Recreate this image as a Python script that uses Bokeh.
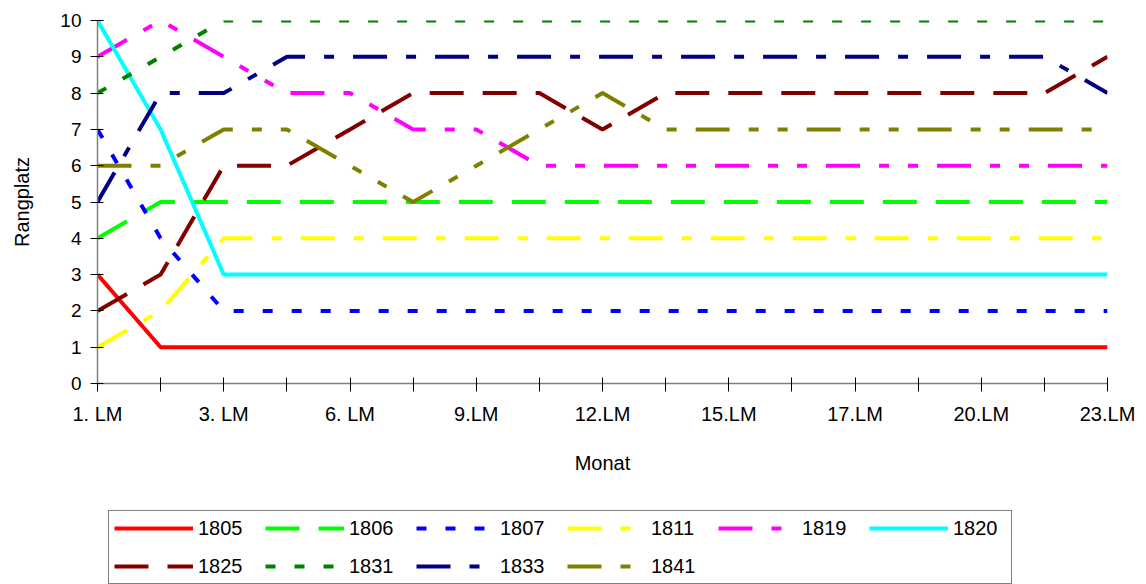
from bokeh.plotting import figure
from bokeh.layouts import column
from bokeh.models import FixedTicker, Legend, LegendItem, Range1d
from bokeh.embed import file_html
from bokeh.resources import INLINE

# ---- data ----
months = ["1. LM", "2. LM", "3. LM", "5. LM", "6. LM", "8. LM", "9.LM", "11.LM",
          "12.LM", "14.LM", "15.LM", "16.LM", "17.LM", "19.LM", "20.LM", "22.LM", "23.LM"]
years = ["1805", "1806", "1807", "1811", "1819", "1820", "1825", "1831", "1833", "1841"]

r1805 = [3, 1, 1, 1, 1, 1, 1, 1, 1, 1, 1, 1, 1, 1, 1, 1, 1]
r1806 = [4, 5, 5, 5, 5, 5, 5, 5, 5, 5, 5, 5, 5, 5, 5, 5, 5]
r1807 = [7, 4, 2, 2, 2, 2, 2, 2, 2, 2, 2, 2, 2, 2, 2, 2, 2]
r1811 = [1, 2, 4, 4, 4, 4, 4, 4, 4, 4, 4, 4, 4, 4, 4, 4, 4]
r1819 = [9, 10, 9, 8, 8, 7, 7, 6, 6, 6, 6, 6, 6, 6, 6, 6, 6]
r1820 = [10, 7, 3, 3, 3, 3, 3, 3, 3, 3, 3, 3, 3, 3, 3, 3, 3]
r1825 = [2, 3, 6, 6, 7, 8, 8, 8, 7, 8, 8, 8, 8, 8, 8, 8, 9]
r1831 = [8, 9, 10, 10, 10, 10, 10, 10, 10, 10, 10, 10, 10, 10, 10, 10, 10]
r1833 = [5, 8, 8, 9, 9, 9, 9, 9, 9, 9, 9, 9, 9, 9, 9, 9, 8]
r1841 = [6, 6, 7, 7, 6, 5, 6, 7, 8, 7, 7, 7, 7, 7, 7, 7, 7]
series = [r1805, r1806, r1807, r1811, r1819, r1820, r1825, r1831, r1833, r1841]

# ---- styles ----
colors = ["#FF0000", "#00FF00", "#0000FF", "#FFFF00", "#FF00FF", "#00FFFF",
          "#800000", "#008000", "#000080", "#808000"]
dashes = ["solid", "34 19", "10 19", "34 19 10 19", "34 19 10 19 10 19", "solid",
          "34 19", "10 19", "34 19 10 19", "34 19 10 19 10 19"]

FONT = "Liberation Sans"
x = list(range(len(months)))

# ---- main chart ----
p = figure(width=1140, height=510, output_backend="svg", toolbar_location=None,
           x_range=Range1d(0, len(months) - 1), y_range=Range1d(0, 10),
           min_border_left=97, min_border_right=33, min_border_top=20,
           min_border_bottom=127)
p.background_fill_color = "white"
p.border_fill_color = "white"
p.outline_line_color = None
p.grid.visible = False

for vals, c, d in zip(series, colors, dashes):
    p.line(x, vals, line_color=c, line_width=4, line_dash=d)

p.xaxis.ticker = FixedTicker(ticks=x)
p.xaxis.major_label_overrides = {i: (m if i % 2 == 0 else "") for i, m in enumerate(months)}
p.yaxis.ticker = FixedTicker(ticks=list(range(11)))
for ax in (p.xaxis, p.yaxis):
    ax.axis_line_color = "#808080"
    ax.axis_line_width = 1.5
    ax.major_tick_line_color = "#000000"
    ax.major_tick_line_width = 1
    ax.minor_tick_line_color = None
    ax.major_label_text_font = FONT
    ax.major_label_text_font_size = "20px"
    ax.major_label_text_color = "#000000"
    ax.axis_label_text_font = FONT
    ax.axis_label_text_font_size = "20px"
    ax.axis_label_text_font_style = "normal"
    ax.axis_label_text_color = "#000000"

p.xaxis.axis_label = "Monat"
p.xaxis.major_tick_out = 8
p.xaxis.major_tick_in = 6
p.xaxis.major_label_standoff = 11
p.xaxis.axis_label_standoff = 24

p.yaxis.axis_label = "Rangplatz"
p.yaxis.major_label_text_font_size = "19px"
p.yaxis.major_tick_out = 7
p.yaxis.major_tick_in = 6
p.yaxis.major_label_standoff = 9
p.yaxis.axis_label_standoff = 24

# ---- legend panel (same series, drawn outside its view so only the legend shows) ----
lg = figure(width=1140, height=74, output_backend="svg", toolbar_location=None,
            x_range=Range1d(-10, -9), y_range=Range1d(0, 10),
            min_border=0)
lg.outline_line_color = None
lg.grid.visible = False
lg.axis.visible = False
lg.background_fill_color = "white"
lg.border_fill_color = "white"

legend_renderers = []
for vals, c, d in zip(series, colors, dashes):
    legend_renderers.append(lg.line(x, vals, line_color=c, line_width=4, line_dash=d))

legend = Legend(items=[LegendItem(label=yr, renderers=[r]) for yr, r in zip(years, legend_renderers)],
                orientation="horizontal", ncols=6, location=(11, 0))
legend.label_text_font = FONT
legend.label_text_font_size = "20px"
legend.label_text_color = "#000000"
legend.glyph_width = 79
legend.glyph_height = 24
legend.label_height = 24
legend.label_width = 53
legend.label_standoff = 5
legend.spacing = 14
legend.padding = 5
legend.margin = 0
legend.border_line_color = "#000000"
legend.border_line_width = 1
legend.background_fill_color = "white"
legend.background_fill_alpha = 1
lg.add_layout(legend, "center")

layout = column(p, lg, spacing=0)
open("out.html", "w").write(file_html(layout, INLINE))
